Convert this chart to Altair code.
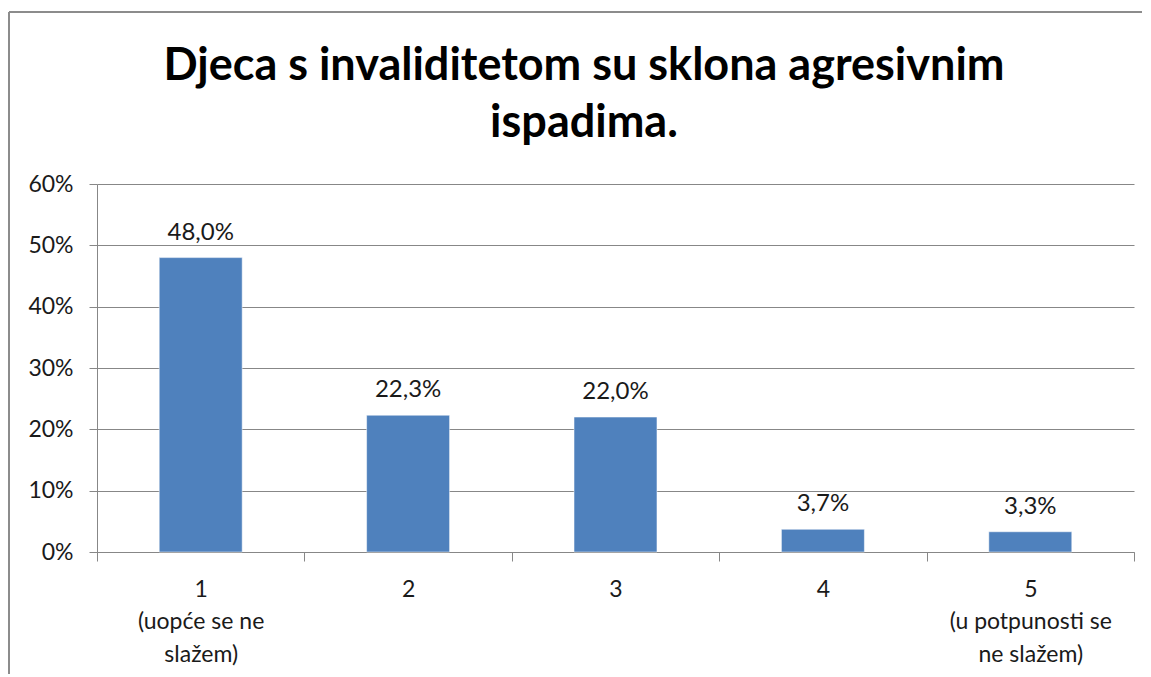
import altair as alt
import pandas as pd

categories = ["1\n(uopće se ne\nslažem)", "2", "3", "4", "5\n(u potpunosti se\nne slažem)"]
values = [0.480, 0.223, 0.220, 0.037, 0.033]
title_lines = ["Djeca s invaliditetom su sklona agresivnim", "ispadima."]

df = pd.DataFrame({"cat": categories, "value": values})

FONT = "Lato"
GRID = "#878787"
TEXT = "#1a1a1a"

W, H = 1037, 368

x = alt.X("cat:N", sort=categories, title=None,
          scale=alt.Scale(paddingInner=0, paddingOuter=0),
          axis=alt.Axis(labelAngle=0, labelExpr="split(datum.label, '\\n')",
                        labelLineHeight=32.5, labelFontSize=23, labelFont=FONT,
                        labelColor=TEXT, labelPadding=17, tickBand="extent",
                        tickSize=9, tickColor=GRID, domainColor=GRID,
                        labelBaseline="top"))
y = alt.Y("value:Q", title=None,
          scale=alt.Scale(domain=[0, 0.6]),
          axis=alt.Axis(format=".0%", values=[0, 0.1, 0.2, 0.3, 0.4, 0.5, 0.6],
                        labelFontSize=23, labelFont=FONT, labelColor=TEXT,
                        labelPadding=16, tickSize=8, tickColor=GRID,
                        domainColor=GRID, gridColor=GRID, grid=True))

bars = alt.Chart(df).mark_bar(color="#4F81BD", stroke="#ffffff", strokeWidth=0.5,
                              width=alt.RelativeBandSize(0.4)).encode(x=x, y=y)

labels = alt.Chart(df).transform_calculate(
    txt="replace(format(datum.value, '.1%'), '.', ',')"
).mark_text(font=FONT, fontSize=24, color=TEXT, baseline="alphabetic", dy=-18).encode(
    x=alt.X("cat:N", sort=categories), y="value:Q", text="txt:N")

one = pd.DataFrame({"k": [0]})
title = alt.Chart(one).mark_text(
    text=title_lines, font=FONT, fontSize=45, fontWeight="bold", color="#000000",
    baseline="alphabetic", align="center", lineHeight=57
).encode(x=alt.value(487), y=alt.value(-104))

frame_left = alt.Chart(one).mark_rule(color="#8c8c8c", strokeWidth=2).encode(
    x=alt.value(-88), y=alt.value(-172), y2=alt.value(H + 160))
frame_top = alt.Chart(one).mark_rule(color="#8c8c8c", strokeWidth=2).encode(
    x=alt.value(-88), x2=alt.value(W + 8), y=alt.value(-172))

chart = alt.layer(bars, labels, title, frame_left, frame_top).properties(
    width=W, height=H,
    autosize=alt.AutoSizeParams(type="none"),
    padding={"left": 89, "top": 176, "right": 8, "bottom": 122},
).configure_view(stroke=None).configure_axis(gridWidth=1, domainWidth=1, tickWidth=1)

chart.save("out.html", embed_options={"renderer": "svg", "actions": False})
